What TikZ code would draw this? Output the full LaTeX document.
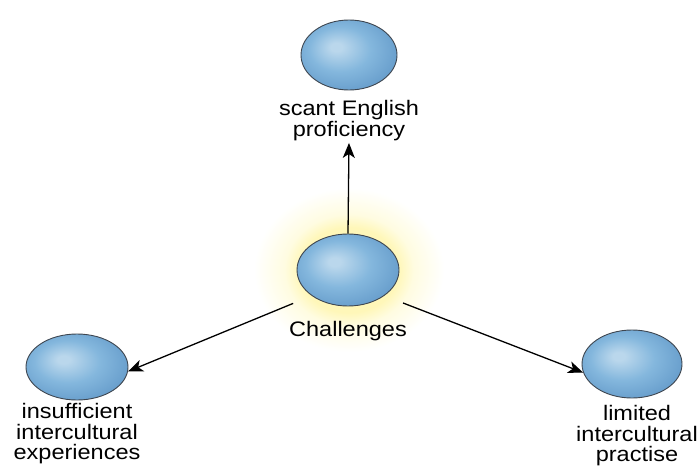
\documentclass[tikz,border=0pt]{standalone}
\usepackage{fontspec}
\setmainfont{Liberation Sans}
\newfontfamily\lblfont[FakeStretch=1.12]{Liberation Sans}
\usepackage{tikz}
\usetikzlibrary{arrows.meta,shapes.geometric,positioning}
\definecolor{sphhi}{RGB}{186,215,236}
\definecolor{sphmid}{RGB}{132,183,221}
\definecolor{sphlow}{RGB}{104,158,204}
\definecolor{rimc}{RGB}{62,70,80}
\definecolor{glowc}{RGB}{255,247,185}
\definecolor{glowmid}{RGB}{255,252,225}
\pgfdeclareradialshading{sphere}{\pgfqpoint{-7bp}{6bp}}{color(0bp)=(sphhi); color(3bp)=(sphhi); color(16bp)=(sphmid); color(29bp)=(sphlow); color(50bp)=(sphlow)}
\pgfdeclareradialshading{glow}{\pgfpointorigin}{color(0bp)=(glowc); color(13bp)=(glowc); color(17bp)=(glowmid); color(25bp)=(white); color(50bp)=(white)}

\begin{document}
\begin{tikzpicture}[x=1pt,y=-1pt,>={Stealth[length=15pt,width=12pt,inset=4pt]},
  ball/.style={ellipse,draw=rimc,line width=0.9pt,shading=sphere,minimum width=102pt,minimum height=72pt,inner sep=0pt},
  lbl/.style={font=\lblfont\fontsize{21}{20.5}\selectfont,align=center,inner sep=0pt},
  link/.style={->,line width=1.3pt}]
  \useasboundingbox (0,0) rectangle (700,465);
  \shade[shading=glow] (349,270) ellipse [x radius=95,y radius=82];

  \node[ball]                                     (chal)  at (348,270) {};
  \node[ball,minimum width=96pt,minimum height=70pt]  (scant) at (349,55)  {};
  \node[ball,minimum height=66pt]                 (insuf) at (77,367)  {};
  \node[ball,minimum width=100pt,minimum height=68pt] (limit) at (632,364) {};

  \node[lbl,below=15pt of chal]           (chaltxt)  {Challenges};
  \node[lbl,below=10pt of scant]          (scanttxt) {scant English\\proficiency};
  \node[lbl,below=3pt of insuf]           (insuftxt) {insufficient\\intercultural\\experiences};
  \node[lbl,below=7pt of limit,xshift=5pt] (limittxt) {limited\\intercultural\\practise};

  \draw[link,shorten >=2pt] (chal.north) -- (scanttxt.south);
  \draw[link,shorten <=20pt] (chal.south west) -- (insuf.355);
  \draw[link,shorten <=20pt] (chal.south east) -- (limit.190);
\end{tikzpicture}
\end{document}
